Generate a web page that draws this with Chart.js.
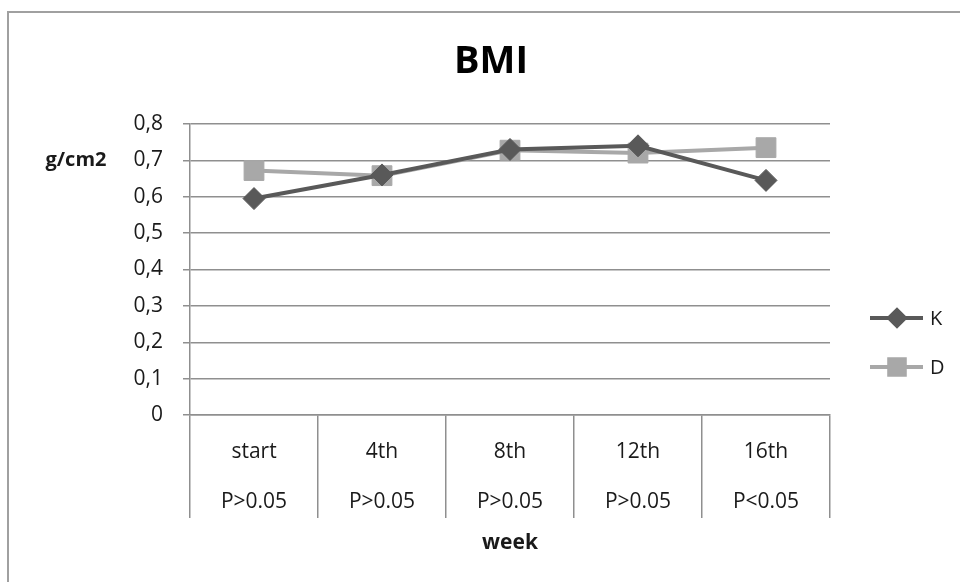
<!DOCTYPE html>
<html>
<head>
<meta charset="utf-8">
<script src="https://cdn.jsdelivr.net/npm/chart.js@4/dist/chart.umd.min.js"></script>
<style>
  html, body { margin: 0; padding: 0; background: #ffffff; }
  #wrap { width: 960px; height: 582px; position: relative; }
</style>
</head>
<body>
<div id="wrap"><canvas id="c" width="960" height="582"></canvas></div>
<script>
const weeks = ['start', '4th', '8th', '12th', '16th'];
const pValues = ['P>0.05', 'P>0.05', 'P>0.05', 'P>0.05', 'P<0.05'];
const seriesK = [0.595, 0.66, 0.73, 0.74, 0.645];
const seriesD = [0.672, 0.658, 0.728, 0.72, 0.735];
const yTicks = [0, 0.1, 0.2, 0.3, 0.4, 0.5, 0.6, 0.7, 0.8];

const FONT = "'Open Sans', 'DejaVu Sans', sans-serif";
const GRID = '#8f8f8f';

const framePlugin = {
  id: 'frame',
  beforeDraw(chart) {
    const ctx = chart.ctx;
    ctx.save();
    ctx.fillStyle = '#ffffff';
    ctx.fillRect(0, 0, chart.width, chart.height);
    ctx.strokeStyle = '#a0a0a0';
    ctx.lineWidth = 2;
    ctx.beginPath();
    ctx.moveTo(8, chart.height);
    ctx.lineTo(8, 12);
    ctx.lineTo(chart.width, 12);
    ctx.stroke();
    ctx.restore();
  }
};

const extrasPlugin = {
  id: 'extras',
  afterDraw(chart) {
    const ctx = chart.ctx;
    ctx.save();
    // chart title
    ctx.font = "bold 38px " + FONT;
    ctx.fillStyle = '#000000';
    ctx.textAlign = 'center';
    ctx.textBaseline = 'middle';
    ctx.fillText('BMI', 491, 62);
    // y-axis unit label (horizontal)
    ctx.font = "bold 20px " + FONT;
    ctx.fillStyle = '#1a1a1a';
    ctx.fillText('g/cm2', 76, 160);
    // legend
    const items = [{ ds: 0, y: 318, r: 8 }, { ds: 1, y: 367, r: 11 }];
    items.forEach(it => {
      const ds = chart.data.datasets[it.ds];
      ctx.strokeStyle = ds.borderColor;
      ctx.lineWidth = 4;
      ctx.beginPath();
      ctx.moveTo(870, it.y);
      ctx.lineTo(923, it.y);
      ctx.stroke();
      ctx.fillStyle = ds.pointBackgroundColor;
      ctx.strokeStyle = ds.pointBorderColor;
      Chart.helpers.drawPoint(ctx, { pointStyle: ds.pointStyle, radius: it.r, rotation: 0, borderWidth: 1 }, 897, it.y);
      ctx.font = "20px " + FONT;
      ctx.fillStyle = '#1a1a1a';
      ctx.textAlign = 'left';
      ctx.textBaseline = 'middle';
      ctx.fillText(ds.label, 930, it.y + 1);
    });
    ctx.restore();
  }
};

new Chart(document.getElementById('c'), {
  type: 'line',
  data: {
    labels: weeks.map((w, i) => [w, '', pValues[i]]),
    datasets: [
      {
        label: 'K',
        data: seriesK,
        borderColor: '#595959',
        backgroundColor: '#595959',
        pointBackgroundColor: '#595959',
        pointBorderColor: '#595959',
        borderWidth: 4,
        pointStyle: 'rectRot',
        pointRadius: 11,
        pointBorderWidth: 1,
        tension: 0
      },
      {
        label: 'D',
        data: seriesD,
        borderColor: '#a8a8a8',
        backgroundColor: '#a8a8a8',
        pointBackgroundColor: '#a8a8a8',
        pointBorderColor: '#a8a8a8',
        borderWidth: 4,
        pointStyle: 'rect',
        pointRadius: 14,
        pointBorderWidth: 1,
        tension: 0
      }
    ]
  },
  options: {
    responsive: false,
    animation: false,
    devicePixelRatio: 1,
    layout: { padding: { top: 124, right: 130, bottom: 0, left: 0 } },
    plugins: {
      legend: { display: false },
      tooltip: { enabled: false },
      title: { display: false }
    },
    scales: {
      x: {
        offset: true,
        grid: {
          offset: true,
          drawOnChartArea: false,
          drawTicks: true,
          tickLength: 103,
          color: GRID,
          lineWidth: 1.5
        },
        border: { display: true, color: GRID, width: 1.5 },
        ticks: {
          color: '#1a1a1a',
          font: { family: FONT, size: 21, lineHeight: 1.19 },
          padding: -78,
          maxRotation: 0,
          autoSkip: false
        },
        title: {
          display: true,
          text: 'week',
          color: '#1a1a1a',
          font: { family: FONT, size: 21, weight: 'bold', lineHeight: 1.2 },
          padding: { top: 4, bottom: 26 }
        },
        afterFit(scale) { scale.height = 167; }
      },
      y: {
        min: 0,
        max: 0.8,
        afterBuildTicks(scale) { scale.ticks = yTicks.map(v => ({ value: v })); },
        grid: {
          color: GRID,
          lineWidth: 1.5,
          drawTicks: true,
          tickLength: 7
        },
        border: { display: true, color: GRID, width: 1.5 },
        ticks: {
          color: '#1a1a1a',
          font: { family: FONT, size: 21 },
          padding: 20,
          callback: v => String(Math.round(v * 10) / 10).replace('.', ',')
        },
        afterFit(scale) { scale.width = 190; }
      }
    }
  },
  plugins: [framePlugin, extrasPlugin]
});
</script>
</body>
</html>
